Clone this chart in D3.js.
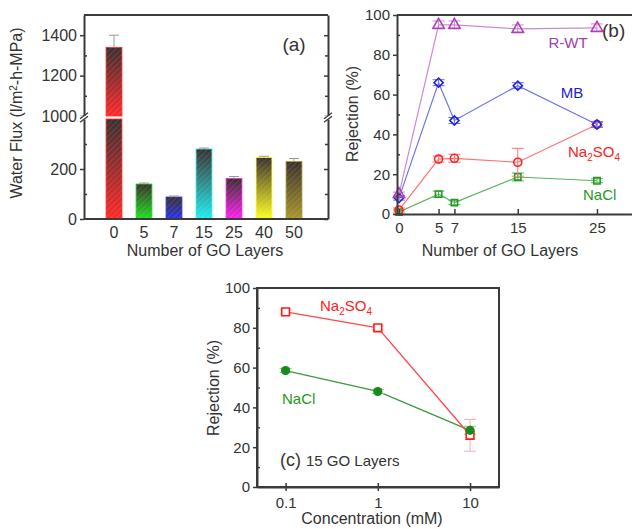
<!DOCTYPE html>
<html><head><meta charset="utf-8">
<script src="https://cdn.jsdelivr.net/npm/d3@7"></script>
<style>
body{margin:0;background:#fff}
svg{display:block;background:#fff}
text{font-family:"Liberation Sans",Arial,sans-serif;fill:#333}
</style>
</head><body>
<svg id="chart" width="632" height="529"></svg>
<script>
// ---------- DATA ----------
// Panel (a): water flux vs number of GO layers
const aCats = ["0","5","7","15","25","40","50"];
const aFlux = [1340,140,88,280,162,246,230];
const aErr  = [60,4,4,4,8,5,12];
const aColors = ["#ff2a2a","#22e022","#2a35e8","#22eeee","#ff22ee","#ffff22","#a8982a"];
const aLowTicks = [0,200], aLowMinor = [100,300];
const aUpTicks = [1000,1200,1400], aUpMinor = [1100,1300];

// Panel (b): rejection vs number of GO layers
const bLayers = [0,5,7,15,25];
const bRWT    = [10,95,95,93,93.5];
const bRWTErr = [1,2,2,2,2];
const bMB     = [8,66,47,64.5,45];
const bMBErr  = [1,1.5,1.5,1.5,1.5];
const bNa2SO4 = [2,27.6,28,26,45];
const bNa2SO4Err = [1,1.5,2,7,1];
const bNaCl   = [1,10,5.7,18.6,16.7];
const bNaClErr = [1,1.5,1,2,1];
const bXTicks = [0,5,7,15,25];
const bYTicks = [0,20,40,60,80,100];
const bYMinor = [10,30,50,70,90];

// Panel (c): rejection vs concentration (15 GO layers)
const cConc = [0.1,1,10];
const cNa2SO4 = [88,80,26];
const cNa2SO4Err = [1,1,8];
const cNaCl = [58.5,48,28.5];
const cNaClErr = [1,1,2];
const cXTicks = [0.1,1,10];
const cYTicks = [0,20,40,60,80,100];
const cYMinor = [10,30,50,70,90];

// ---------- DRAW ----------
const svg = d3.select("#chart");
const AX = "#3a3a3a";
const defs = svg.append("defs");
const fmtInt = d3.format("d");

defs.append("pattern").attr("id","hatch").attr("patternUnits","userSpaceOnUse")
  .attr("width",4).attr("height",4).attr("patternTransform","rotate(45)")
  .append("line").attr("x1",0).attr("y1",0).attr("x2",0).attr("y2",4)
  .attr("stroke","#fff").attr("stroke-opacity",0.18).attr("stroke-width",1.2);

aColors.forEach((c,i)=>{
  const g = defs.append("linearGradient").attr("id","grad"+i)
    .attr("x1",0).attr("y1",0).attr("x2",0).attr("y2",1);
  g.append("stop").attr("offset","0%").attr("stop-color","#3b3030");
  g.append("stop").attr("offset","100%").attr("stop-color",c);
});

function styleAxis(g, fs){
  g.select(".domain").attr("stroke",AX).attr("stroke-width",2);
  g.selectAll(".tick line").attr("stroke",AX).attr("stroke-width",1.5);
  g.selectAll(".tick text").style("font-size",fs+"px").attr("fill","#333")
    .style("font-family",'"Liberation Sans",Arial,sans-serif');
}

// ===== Panel (a) =====
{
  const L=84, R=328, T=15, B=219;
  const yLow = d3.scaleLinear().domain([0,400]).range([B,119]);
  const yUp  = d3.scaleLinear().domain([1000,1500]).range([116,T]);
  const x = d3.scaleBand().domain(aCats).range([99,309]).paddingInner(0.47).paddingOuter(0.235);
  const g = svg.append("g");

  // bars
  aFlux.forEach((v,i)=>{
    const xx = x(aCats[i]), w = x.bandwidth();
    const segs = [];
    if (v > 400) { segs.push([yLow(400), B]); segs.push([yUp(v), yUp(1000)]); }
    else segs.push([yLow(v), B]);
    segs.forEach(s=>{
      g.append("rect").attr("x",xx).attr("y",s[0]).attr("width",w).attr("height",s[1]-s[0])
        .attr("fill","url(#grad"+i+")").attr("stroke",aColors[i]).attr("stroke-width",0.8);
      g.append("rect").attr("x",xx).attr("y",s[0]).attr("width",w).attr("height",s[1]-s[0])
        .attr("fill","url(#hatch)");
    });
    // error bar
    const yf = v>400 ? yUp : yLow;
    const cx = xx + w/2;
    const yt = yf(v+aErr[i]), yv = yf(v);
    g.append("line").attr("x1",cx).attr("x2",cx).attr("y1",yt).attr("y2",yv)
      .attr("stroke","#999").attr("stroke-width",1);
    g.append("line").attr("x1",cx-5).attr("x2",cx+5).attr("y1",yt).attr("y2",yt)
      .attr("stroke","#999").attr("stroke-width",1);
  });

  // frame: top & bottom
  g.append("line").attr("x1",L).attr("x2",R).attr("y1",T).attr("y2",T).attr("stroke",AX).attr("stroke-width",2);
  g.append("line").attr("x1",L).attr("x2",R).attr("y1",B).attr("y2",B).attr("stroke",AX).attr("stroke-width",2);

  // left axes
  const la = g.append("g").attr("transform",`translate(${L},0)`)
    .call(d3.axisLeft(yLow).tickValues(aLowTicks).tickSizeInner(4).tickSizeOuter(0).tickPadding(3).tickFormat(fmtInt));
  styleAxis(la,16);
  const ua = g.append("g").attr("transform",`translate(${L},0)`)
    .call(d3.axisLeft(yUp).tickValues(aUpTicks).tickSizeInner(4).tickSizeOuter(0).tickPadding(3).tickFormat(fmtInt));
  styleAxis(ua,16);
  [[yLow,aLowMinor],[yUp,aUpMinor]].forEach(([s,m])=>{
    const mg = g.append("g").attr("transform",`translate(${L},0)`)
      .call(d3.axisLeft(s).tickValues(m).tickSizeInner(-3).tickSizeOuter(0).tickFormat(""));
    styleAxis(mg,16); mg.select(".domain").remove();
  });
  // right axes (mirror)
  [[yLow,aLowTicks],[yUp,aUpTicks]].forEach(([s,t])=>{
    const rg = g.append("g").attr("transform",`translate(${R},0)`)
      .call(d3.axisRight(s).tickValues(t).tickSizeInner(-4).tickSizeOuter(0).tickFormat(""));
    styleAxis(rg,16);
  });
  [[yLow,aLowMinor],[yUp,aUpMinor]].forEach(([s,m])=>{
    const rg = g.append("g").attr("transform",`translate(${R},0)`)
      .call(d3.axisRight(s).tickValues(m).tickSizeInner(-3).tickSizeOuter(0).tickFormat(""));
    styleAxis(rg,16); rg.select(".domain").remove();
  });
  // x axis labels
  const xa = g.append("g").attr("transform",`translate(0,${B})`)
    .call(d3.axisBottom(x).tickSize(0).tickPadding(8));
  styleAxis(xa,16); xa.select(".domain").remove();

  // break marks
  [L,R].forEach(px=>{
    const yb = 117.5;
    g.append("rect").attr("x",px-5).attr("y",yb-1.5).attr("width",10).attr("height",3).attr("fill","#fff");
    [-1.8,1.8].forEach(o=>{
      g.append("line").attr("x1",px-4).attr("x2",px+4).attr("y1",yb+o+3).attr("y2",yb+o-3)
        .attr("stroke",AX).attr("stroke-width",1.3);
    });
  });

  g.append("text").attr("x",294).attr("y",51).attr("text-anchor","middle")
    .style("font-size","19px").text("(a)");
  g.append("text").attr("x",205).attr("y",256).attr("text-anchor","middle")
    .style("font-size","16px").text("Number of GO Layers");
  const yl = g.append("text").attr("transform","translate(22,113) rotate(-90)")
    .attr("text-anchor","middle").style("font-size","16px");
  yl.append("tspan").text("Water Flux (l/m");
  yl.append("tspan").attr("dy",-5).style("font-size","10px").text("2");
  yl.append("tspan").attr("dy",5).text("-h-MPa)");
}

function errBars(g, xs, ys, vals, errs, color, cap){
  vals.forEach((v,i)=>{
    const cx = xs(i), y1 = ys(v+errs[i]), y2 = ys(v-errs[i]);
    g.append("line").attr("x1",cx).attr("x2",cx).attr("y1",y1).attr("y2",y2)
      .attr("stroke",color).attr("stroke-width",1);
    [y1,y2].forEach(yy=>g.append("line").attr("x1",cx-cap).attr("x2",cx+cap)
      .attr("y1",yy).attr("y2",yy).attr("stroke",color).attr("stroke-width",1));
  });
}

// ===== Panel (b) =====
{
  const L=397, R=633, T=15, B=214;
  const x = d3.scaleLinear().domain([-0.25,29.55]).range([L,R]);
  const y = d3.scaleLinear().domain([0,100]).range([B,T]);
  const g = svg.append("g");

  const series = [
    {v:bNaCl, e:bNaClErr, c:"#229922", lc:"#55b555", sym:d3.symbolSquare, size:40, rot:0},
    {v:bNa2SO4, e:bNa2SO4Err, c:"#ff2020", lc:"#ff7272", sym:"circle", r:4},
    {v:bMB, e:bMBErr, c:"#2222dd", lc:"#6a74ee", sym:d3.symbolSquare, size:42, rot:45},
    {v:bRWT, e:bRWTErr, c:"#b040b8", lc:"#cc88d8", sym:d3.symbolTriangle, size:55, rot:0},
  ];
  const line = (vals)=>d3.line().x((d,i)=>x(bLayers[i])).y(d=>y(d))(vals);
  series.forEach(s=>{
    g.append("path").attr("d",line(s.v)).attr("fill","none").attr("stroke",s.lc).attr("stroke-width",1.2);
  });
  series.forEach(s=>{
    errBars(g, i=>x(bLayers[i]), y, s.v, s.e, s.lc, 6);
    s.v.forEach((v,i)=>{
      const cx = x(bLayers[i]), cy = y(v);
      if (s.sym==="circle"){
        g.append("circle").attr("cx",cx).attr("cy",cy).attr("r",s.r)
          .attr("fill","none").attr("stroke",s.c).attr("stroke-width",1.6);
      } else {
        g.append("path").attr("d",d3.symbol(s.sym,s.size)())
          .attr("transform",`translate(${cx},${cy}) rotate(${s.rot})`)
          .attr("fill","none").attr("stroke",s.c).attr("stroke-width",1.6);
      }
    });
  });

  g.append("line").attr("x1",L).attr("x2",R).attr("y1",T).attr("y2",T).attr("stroke",AX).attr("stroke-width",2);
  const ya = g.append("g").attr("transform",`translate(${L},0)`)
    .call(d3.axisLeft(y).tickValues(bYTicks).tickSizeInner(4).tickSizeOuter(0).tickPadding(3));
  styleAxis(ya,15);
  const ym = g.append("g").attr("transform",`translate(${L},0)`)
    .call(d3.axisLeft(y).tickValues(bYMinor).tickSizeInner(-3).tickSizeOuter(0).tickFormat(""));
  styleAxis(ym,15); ym.select(".domain").remove();
  const xa = g.append("g").attr("transform",`translate(0,${B})`)
    .call(d3.axisBottom(x).tickValues(bXTicks).tickSizeInner(-5).tickSizeOuter(0).tickPadding(8));
  styleAxis(xa,15);

  g.append("text").attr("x",602).attr("y",37).style("font-size","19px").text("(b)");
  g.append("text").attr("x",568).attr("y",48).attr("text-anchor","middle")
    .style("font-size","15px").style("fill","#a040b0").text("R-WT");
  g.append("text").attr("x",572).attr("y",98).attr("text-anchor","middle")
    .style("font-size","15px").style("fill","#2222cc").text("MB");
  const na = g.append("text").attr("x",568).attr("y",157).style("font-size","15px").style("fill","#ff2020");
  na.append("tspan").text("Na");
  na.append("tspan").attr("dy",4).style("font-size","10px").text("2");
  na.append("tspan").attr("dy",-4).text("SO");
  na.append("tspan").attr("dy",4).style("font-size","10px").text("4");
  g.append("text").attr("x",583).attr("y",200).style("font-size","15px").style("fill","#229922").text("NaCl");
  g.append("text").attr("x",500).attr("y",256).attr("text-anchor","middle")
    .style("font-size","16px").text("Number of GO Layers");
  g.append("text").attr("transform","translate(358,114) rotate(-90)").attr("text-anchor","middle")
    .style("font-size","16px").text("Rejection (%)");
}

// ===== Panel (c) =====
{
  const L=257, R=499, T=288, B=487;
  const x = d3.scaleLog().domain([0.049,20.6]).range([L,R]);
  const y = d3.scaleLinear().domain([0,100]).range([B,T]);
  const g = svg.append("g");

  const line = (vals)=>d3.line().x((d,i)=>x(cConc[i])).y(d=>y(d))(vals);
  g.append("path").attr("d",line(cNaCl)).attr("fill","none").attr("stroke","#3a9a3a").attr("stroke-width",1.3);
  g.append("path").attr("d",line(cNa2SO4)).attr("fill","none").attr("stroke","#ff4848").attr("stroke-width",1.3);
  errBars(g, i=>x(cConc[i]), y, cNa2SO4, cNa2SO4Err, "#ffaaaa", 6);
  errBars(g, i=>x(cConc[i]), y, cNaCl, cNaClErr, "#88c888", 6);
  cNa2SO4.forEach((v,i)=>{
    g.append("path").attr("d",d3.symbol(d3.symbolSquare,60)())
      .attr("transform",`translate(${x(cConc[i])},${y(v)})`)
      .attr("fill","#fff").attr("stroke","#ff1a1a").attr("stroke-width",1.6);
  });
  cNaCl.forEach((v,i)=>{
    g.append("circle").attr("cx",x(cConc[i])).attr("cy",y(v)).attr("r",4.6).attr("fill","#1a8a1a");
  });

  g.append("rect").attr("x",L).attr("y",T).attr("width",R-L).attr("height",B-T)
    .attr("fill","none").attr("stroke",AX).attr("stroke-width",2);
  const ya = g.append("g").attr("transform",`translate(${L},0)`)
    .call(d3.axisLeft(y).tickValues(cYTicks).tickSizeInner(4).tickSizeOuter(0).tickPadding(3));
  styleAxis(ya,15);
  const ym = g.append("g").attr("transform",`translate(${L},0)`)
    .call(d3.axisLeft(y).tickValues(cYMinor).tickSizeInner(-3).tickSizeOuter(0).tickFormat(""));
  styleAxis(ym,15); ym.select(".domain").remove();
  const xa = g.append("g").attr("transform",`translate(0,${B})`)
    .call(d3.axisBottom(x).tickValues(cXTicks).tickSizeInner(4).tickSizeOuter(0).tickPadding(6).tickFormat(d=>String(d)));
  styleAxis(xa,15);
  const xi = g.append("g").attr("transform",`translate(0,${B})`)
    .call(d3.axisBottom(x).tickValues(cXTicks).tickSizeInner(-4).tickSizeOuter(0).tickFormat(""));
  styleAxis(xi,15); xi.select(".domain").remove();

  const na = g.append("text").attr("x",320).attr("y",311).style("font-size","15px").style("fill","#ff2020");
  na.append("tspan").text("Na");
  na.append("tspan").attr("dy",4).style("font-size","10px").text("2");
  na.append("tspan").attr("dy",-4).text("SO");
  na.append("tspan").attr("dy",4).style("font-size","10px").text("4");
  g.append("text").attr("x",282).attr("y",404).style("font-size","15px").style("fill","#229922").text("NaCl");
  const lab = g.append("text").attr("x",280).attr("y",466);
  lab.append("tspan").style("font-size","18px").text("(c)");
  lab.append("tspan").attr("dx",5).style("font-size","15px").text("15 GO Layers");
  g.append("text").attr("x",372).attr("y",524).attr("text-anchor","middle")
    .style("font-size","16px").text("Concentration (mM)");
  g.append("text").attr("transform","translate(219,388) rotate(-90)").attr("text-anchor","middle")
    .style("font-size","16px").text("Rejection (%)");
}
</script>
</body></html>
